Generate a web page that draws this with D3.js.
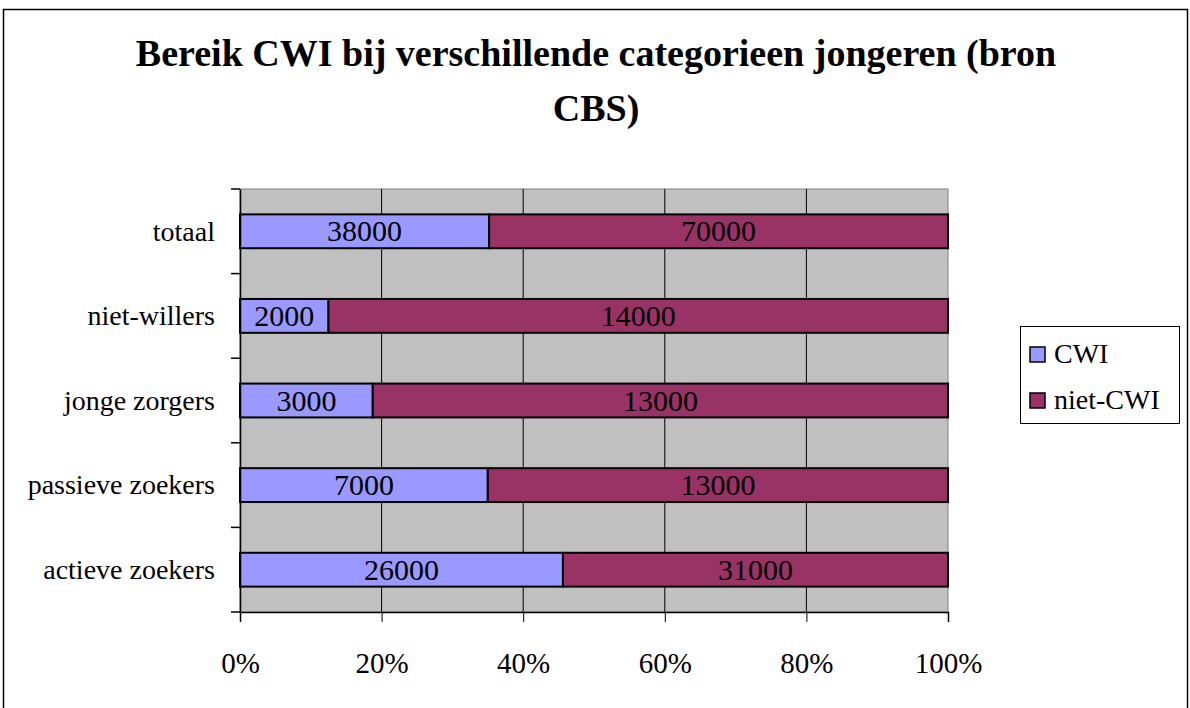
<!doctype html>
<html>
  <head>
    <meta charset="utf-8">
    <title>Bereik CWI</title>
    <script src="https://d3js.org/d3.v7.min.js"></script>
    <style type="text/css">
      body { margin: 0; background-color: #ffffff; }
      text { font-family: "Liberation Serif", "DejaVu Serif", serif; fill: #000; }
    </style>
  </head>
  <body>
    <script>
      // data
      var categories = ["totaal", "niet-willers", "jonge zorgers", "passieve zoekers", "actieve zoekers"];
      var seriesNames = ["CWI", "niet-CWI"];
      var cwi = [38000, 2000, 3000, 7000, 26000];
      var nietCwi = [70000, 14000, 13000, 13000, 31000];
      var xTicks = [0, 0.2, 0.4, 0.6, 0.8, 1];
      var colors = ["#9999ff", "#993366"];

      var w = 1190, h = 708;
      var plotLeft = 240, plotRight = 948, plotTop = 189, plotBottom = 612;

      var svg = d3.select("body").append("svg")
        .attr("width", w)
        .attr("height", h);

      // outer frame
      svg.append("rect")
        .attr("x", 3.5).attr("y", 9.5)
        .attr("width", 1184).attr("height", 720)
        .attr("fill", "none").attr("stroke", "#000").attr("stroke-width", 1.5);

      // title
      var title = svg.append("text")
        .attr("text-anchor", "middle")
        .style("font-size", "38px").style("font-weight", "bold");
      title.append("tspan").attr("x", 596).attr("y", 66).text("Bereik CWI bij verschillende categorieen jongeren (bron");
      title.append("tspan").attr("x", 596).attr("y", 121).text("CBS)");

      var x = d3.scaleLinear().domain([0, 1]).range([plotLeft, plotRight]);
      var y = d3.scaleBand().domain(categories).range([plotTop, plotBottom])
        .paddingInner(0.6).paddingOuter(0.3);
      var yOuter = d3.scaleBand().domain(categories).range([plotTop, plotBottom]);

      // plot background
      svg.append("rect")
        .attr("x", plotLeft).attr("y", plotTop)
        .attr("width", plotRight - plotLeft).attr("height", plotBottom - plotTop)
        .attr("fill", "#c0c0c0").attr("stroke", "#808080");

      // grid
      svg.append("g").selectAll("line")
        .data(xTicks.slice(1, -1))
        .enter().append("line")
        .attr("x1", function(d){ return x(d); }).attr("x2", function(d){ return x(d); })
        .attr("y1", plotTop).attr("y2", plotBottom)
        .attr("stroke", "#000").attr("stroke-width", 1);

      // stacked rows
      var rows = categories.map(function(c, i){
        var total = cwi[i] + nietCwi[i];
        return {cat: c, parts: [
          {name: seriesNames[0], v: cwi[i], x0: 0, x1: cwi[i] / total},
          {name: seriesNames[1], v: nietCwi[i], x0: cwi[i] / total, x1: 1}
        ]};
      });

      var rowG = svg.append("g").selectAll("g")
        .data(rows).enter().append("g");

      function parts(d){ return d.parts.map(function(p){ return Object.assign({cat: d.cat}, p); }); }

      rowG.selectAll("rect")
        .data(parts)
        .enter().append("rect")
        .attr("x", function(d){ return x(d.x0); })
        .attr("y", function(d){ return y(d.cat); })
        .attr("width", function(d){ return x(d.x1) - x(d.x0); })
        .attr("height", y.bandwidth())
        .attr("fill", function(d, i){ return colors[i]; })
        .attr("stroke", "#000").attr("stroke-width", 2);

      rowG.selectAll("text.val")
        .data(parts)
        .enter().append("text")
        .attr("class", "val")
        .attr("x", function(d){ return (x(d.x0) + x(d.x1)) / 2; })
        .attr("y", function(d){ return y(d.cat) + y.bandwidth() / 2 + 10; })
        .attr("text-anchor", "middle")
        .style("font-size", "30px")
        .text(function(d){ return d.v; });

      // axes
      var yAxis = d3.axisLeft(yOuter).tickSize(0).tickPadding(25);
      var yg = svg.append("g").attr("transform", "translate(" + plotLeft + ",0)").call(yAxis);
      yg.select(".domain").attr("stroke", "#000").attr("stroke-width", 1.5);
      yg.selectAll("text").style("font-size", "28px").attr("dy", "0.33em");
      // category separator ticks
      svg.append("g").selectAll("line")
        .data(categories.concat(["end"]))
        .enter().append("line")
        .attr("x1", plotLeft - 9).attr("x2", plotLeft)
        .attr("y1", function(d, i){ return plotTop + i * yOuter.step(); })
        .attr("y2", function(d, i){ return plotTop + i * yOuter.step(); })
        .attr("stroke", "#000").attr("stroke-width", 1.5);

      var xAxis = d3.axisBottom(x).tickValues(xTicks).tickFormat(d3.format(".0%")).tickSize(10).tickPadding(30);
      var xg = svg.append("g").attr("transform", "translate(0," + plotBottom + ")").call(xAxis);
      xg.select(".domain").attr("stroke", "#000").attr("stroke-width", 1.5);
      xg.selectAll(".tick line").attr("stroke", "#000");
      xg.selectAll("text").style("font-size", "29px");

      // legend
      var lg = svg.append("g").attr("transform", "translate(1020,326)");
      lg.append("rect").attr("x", 0.5).attr("y", 0.5).attr("width", 159).attr("height", 97)
        .attr("fill", "#fff").attr("stroke", "#000");
      var li = lg.selectAll("g.item").data(seriesNames).enter().append("g")
        .attr("class", "item")
        .attr("transform", function(d, i){ return "translate(10," + (21 + i * 46) + ")"; });
      li.append("rect").attr("width", 15).attr("height", 15)
        .attr("fill", function(d, i){ return colors[i]; })
        .attr("stroke", "#000").attr("stroke-width", 1.5);
      li.append("text").attr("x", 24).attr("y", 16)
        .style("font-size", "28px").text(function(d){ return d; });
    </script>
  </body>
</html>
